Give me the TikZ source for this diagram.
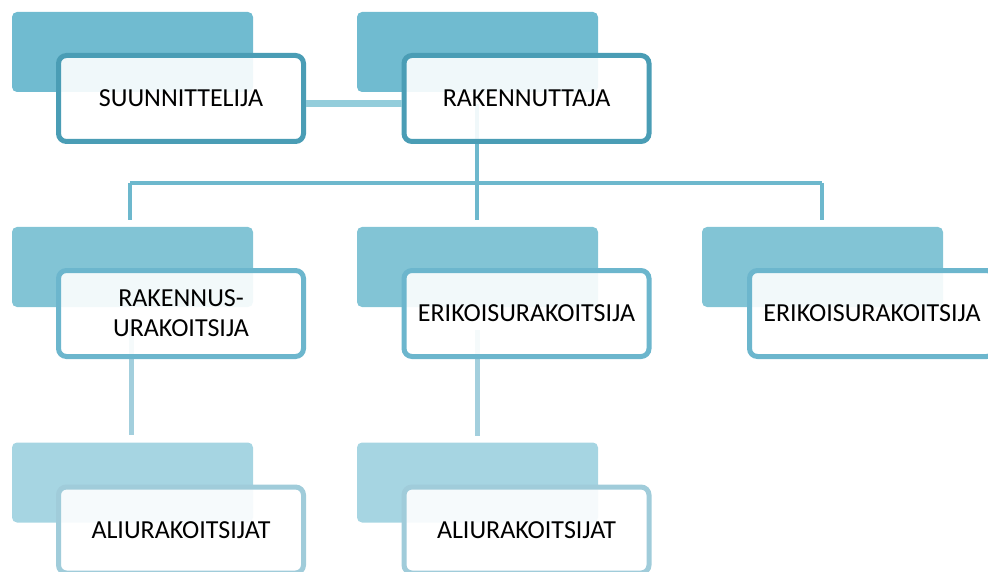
\documentclass[tikz,border=0pt]{standalone}
\usepackage{fontspec}
\setmainfont{Carlito}
\definecolor{backA}{HTML}{70BBD0}
\definecolor{backB}{HTML}{82C4D5}
\definecolor{backC}{HTML}{A6D5E2}
\definecolor{edgeA}{HTML}{4A9DB5}
\definecolor{edgeB}{HTML}{6CB6CD}
\definecolor{edgeC}{HTML}{A0CCDA}
\definecolor{lineA}{HTML}{93CDDB}
\definecolor{lineB}{HTML}{6DB8CD}
\definecolor{lineC}{HTML}{A3CFDD}
\tikzset{
  backbox/.style={rectangle, rounded corners=5pt, minimum width=241pt, minimum height=80pt, inner sep=0pt, fill=#1},
  frontbox/.style={rectangle, rounded corners=8pt, minimum width=245pt, minimum height=86pt, inner sep=0pt, line width=5pt, draw=#1, fill=white, fill opacity=0.9, text opacity=1, align=center, font=\fontsize{26}{30}\selectfont},
  conn/.style={line width=#1},
}
\begin{document}
\begin{tikzpicture}[x=1pt,y=-1pt]
\useasboundingbox (0,0) rectangle (988,572);
% back rectangles
\node[backbox=backA] (bs) at (132.5,52) {};
\node[backbox=backA] (br) at (477.5,52) {};
\node[backbox=backB] (bru) at (132.5,267) {};
\node[backbox=backB] (be1) at (477.5,267) {};
\node[backbox=backB] (be2) at (822.5,267) {};
\node[backbox=backC] (ba1) at (132.5,482.5) {};
\node[backbox=backC] (ba2) at (477.5,482.5) {};
% connector coordinates
\coordinate (rtop) at (477,104);
\coordinate (bar) at (477,183);
\coordinate (barL) at (130,183);
\coordinate (barR) at (822,183);
\coordinate (d1) at (130,220);
\coordinate (d2) at (477,220);
\coordinate (d3) at (822,220);
\coordinate (u1) at (131,320);
\coordinate (e1) at (131,435);
\coordinate (u2) at (477,330);
\coordinate (e2) at (477,436);
% tree connectors
\draw[conn=4.5pt, draw=lineB] (rtop) -- (bar);
\draw[conn=4.5pt, draw=lineB] (barL) -- (barR);
\draw[conn=4.5pt, draw=lineB] (barL) -- (d1);
\draw[conn=4.5pt, draw=lineB] (bar) -- (d2);
\draw[conn=4.5pt, draw=lineB] (barR) -- (d3);
\draw[conn=5pt, draw=lineC] (u1) -- (e1);
\draw[conn=5pt, draw=lineC] (u2) -- (e2);
% front boxes
\node[frontbox=edgeA] (s) at (181,98.5) {SUUNNITTELIJA};
\node[frontbox=edgeA] (r) at (526.5,98.5) {RAKENNUTTAJA};
\node[frontbox=edgeB] (ru) at (181,313.5) {RAKENNUS-\\URAKOITSIJA};
\node[frontbox=edgeB] (e1box) at (526.5,313.5) {ERIKOISURAKOITSIJA};
\node[frontbox=edgeB] (e2box) at (872,313.5) {ERIKOISURAKOITSIJA};
\node[frontbox=edgeC] (a1) at (181,530) {ALIURAKOITSIJAT};
\node[frontbox=edgeC] (a2) at (526.5,530) {ALIURAKOITSIJAT};
% top connector
\draw[conn=7pt, draw=lineA] ([yshift=-5.5pt]s.east) -- ([yshift=-5.5pt]r.west);
\end{tikzpicture}
\end{document}
